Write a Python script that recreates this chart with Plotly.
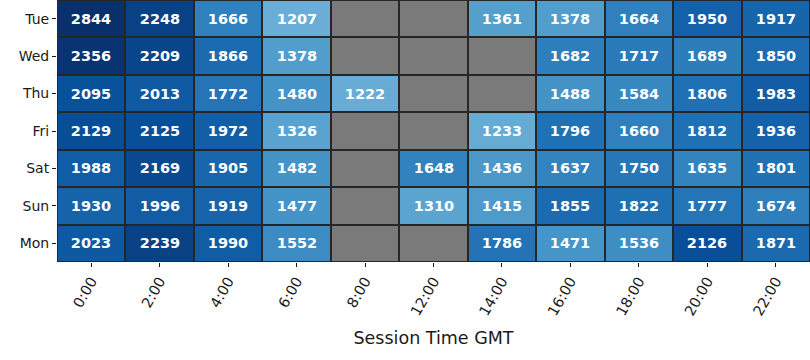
import plotly.graph_objects as go

days = ["Tue", "Wed", "Thu", "Fri", "Sat", "Sun", "Mon"]
hours = ["0:00", "2:00", "4:00", "6:00", "8:00", "12:00", "14:00", "16:00", "18:00", "20:00", "22:00"]

N = None
tue = [2844, 2248, 1666, 1207, N, N, 1361, 1378, 1664, 1950, 1917]
wed = [2356, 2209, 1866, 1378, N, N, N, 1682, 1717, 1689, 1850]
thu = [2095, 2013, 1772, 1480, 1222, N, N, 1488, 1584, 1806, 1983]
fri = [2129, 2125, 1972, 1326, N, N, 1233, 1796, 1660, 1812, 1936]
sat = [1988, 2169, 1905, 1482, N, 1648, 1436, 1637, 1750, 1635, 1801]
sun = [1930, 1996, 1919, 1477, N, 1310, 1415, 1855, 1822, 1777, 1674]
mon = [2023, 2239, 1990, 1552, N, N, 1786, 1471, 1536, 2126, 1871]

values = [tue, wed, thu, fri, sat, sun, mon]

blues = ["#f7fbff", "#deebf7", "#c6dbef", "#9ecae1", "#6baed6",
         "#4292c6", "#2171b5", "#08519c", "#08306b"]
colorscale = [[i / 8, c] for i, c in enumerate(blues)]

z = [[(v if v is not None else float("nan")) for v in row] for row in values]
text = [[(str(v) if v is not None else "") for v in row] for row in values]
missing = [[(1 if v is None else float("nan")) for v in row] for row in values]

fig = go.Figure()
fig.add_trace(go.Heatmap(
    z=missing, x=hours, y=days,
    colorscale=[[0, "#7a7a7a"], [1, "#7a7a7a"]],
    showscale=False, xgap=2, ygap=2, hoverinfo="skip",
))
fig.add_trace(go.Heatmap(
    z=z, x=hours, y=days, text=text, texttemplate="%{text}",
    textfont=dict(family="DejaVu Sans", size=14.5, color="white", weight="bold"),
    colorscale=colorscale, zmin=0, zmax=2400,
    showscale=False, xgap=2, ygap=2,
))

fig.update_layout(
    width=810, height=360,
    margin=dict(l=57, r=0, t=0, b=98),
    paper_bgcolor="white",
    plot_bgcolor="#262626",
    font=dict(family="DejaVu Sans", size=14, color="#1a1a1a"),
    xaxis=dict(
        tickangle=-60, ticks="outside", ticklen=4, tickcolor="#1a1a1a",
        showgrid=False, zeroline=False,
        title=dict(text="Session Time GMT", font=dict(size=17.5), standoff=14),
        tickfont=dict(size=14.5),
    ),
    yaxis=dict(
        autorange="reversed", ticks="outside", ticklen=4, tickcolor="#1a1a1a",
        showgrid=False, zeroline=False, tickfont=dict(size=14),
    ),
)

fig.write_html("out.html", config={"displayModeBar": False},
               post_script="document.body.style.margin='0';document.body.style.overflow='hidden';")
